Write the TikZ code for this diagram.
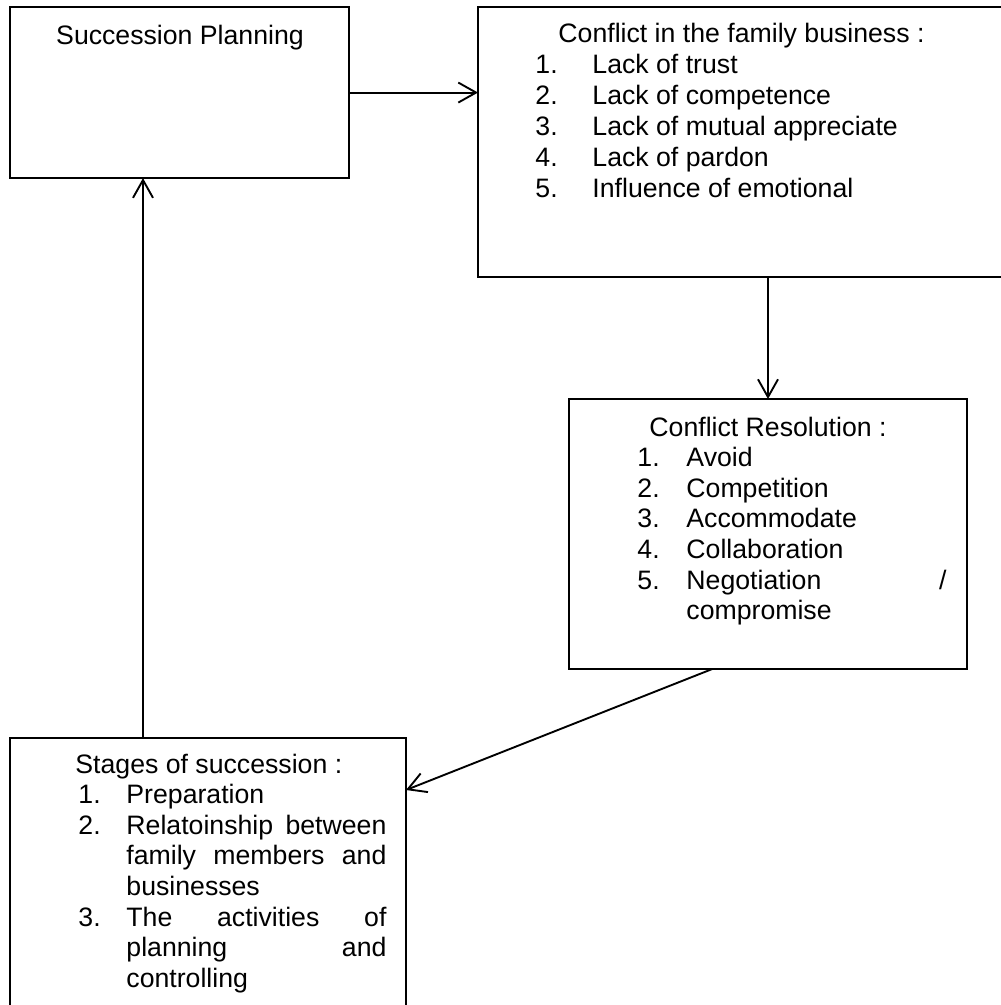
\documentclass[tikz,border=0pt]{standalone}
\usepackage{fontspec}
\setmainfont{Liberation Sans}
\usetikzlibrary{positioning,calc,arrows.meta}

% justified line inside a list item
\newcommand{\fullline}[1]{\makebox[117pt][s]{\spaceskip=0pt\xspaceskip=0pt #1}}

\tikzset{
    block/.style={draw, line width=1pt, anchor=north west, inner sep=0pt, outer sep=0pt},
    txt/.style={anchor=base west, inner sep=0pt, font=\fontsize{12}{13.8}\selectfont},
    item/.style={txt, text width=117pt, align=left},
    flow/.style={line width=0.85pt, -{Straight Barb[length=8pt,width=9pt]}}
}

\begin{document}
\begin{tikzpicture}[x=0.45pt, y=-0.45pt]
    \useasboundingbox (0,0) rectangle (1000,1005);

    % Boxes
    \node[block, minimum width=152.6pt, minimum height=77pt] (plan) at (10,7) {};
    \node[block, minimum width=239.4pt, minimum height=121.5pt] (conflict) at (478,7) {};
    \node[block, minimum width=179.1pt, minimum height=121.5pt] (resolution) at (569,399) {};
    \node[block, minimum width=178.2pt, minimum height=124.7pt] (stages) at (10,738) {};

    % Succession planning
    \node[txt, anchor=base] (plantitle) at (180,44) {Succession Planning};

    % Conflict in the family business
    \node[txt] (conflicttitle) at (558,42.5) {Conflict in the family business :};
    \foreach \n/\t [count=\i] in {1./Lack of trust, 2./Lack of competence,
        3./Lack of mutual appreciate, 4./Lack of pardon, 5./Influence of emotional} {
        \node[txt] (cnum\i) at (535,42.5+31*\i) {\n};
        \node[txt] (citem\i) at (592,42.5+31*\i) {\t};
    }

    % Conflict resolution
    \node[txt] (restitle) at (649,436) {Conflict Resolution :};
    \foreach \n/\t [count=\i] in {1./Avoid, 2./Competition, 3./Accommodate, 4./Collaboration,
        5./{\fullline{Negotiation /}\\compromise}} {
        \node[txt] (rnum\i) at (637,436+30.65*\i) {\n};
        \node[item] (ritem\i) at (686,436+30.65*\i) {\t};
    }

    % Stages of succession
    \node[txt] (stagetitle) at (75,773) {Stages of succession :};
    \foreach \n/\y/\t in {1./1/Preparation,
        2./2/{\fullline{Relatoinship between}\\\fullline{family members and}\\businesses},
        3./5/{\fullline{The activities of}\\\fullline{planning and}\\controlling}} {
        \node[txt] (snum\y) at (78,773+30.65*\y) {\n};
        \node[item] (sitem\y) at (126,773+30.65*\y) {\t};
    }

    % Arrows
    \draw[flow] (plan.east) -- (plan.east -| conflict.west);
    \draw[flow] (resolution.north |- conflict.south) -- (resolution.north);
    \draw[flow] ($(resolution.south west)!0.36!(resolution.south east)$) -- ($(stages.north east)+(0,52)$);
    \coordinate (back) at ($(stages.north west)+(133,0)$);
    \draw[flow] (back) -- (back |- plan.south);
\end{tikzpicture}
\end{document}
